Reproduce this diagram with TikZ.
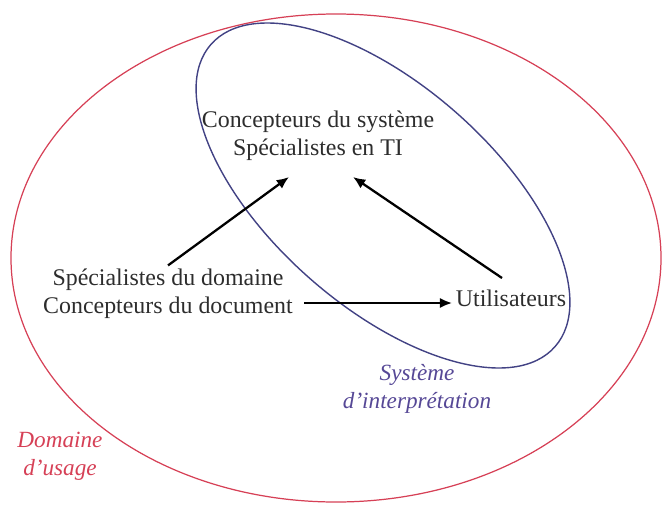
\documentclass[tikz,border=0pt]{standalone}
\usepackage{fontspec}
\setmainfont{Liberation Serif}
\usetikzlibrary{arrows.meta}
\definecolor{rouge}{RGB}{214,64,86}
\definecolor{bleu}{RGB}{66,66,132}
\definecolor{violet}{RGB}{86,72,150}
\definecolor{texte}{RGB}{45,45,45}
\tikzset{
	acteur/.style={text=texte,align=center,font=\fontsize{13.6}{15.8}\selectfont,inner sep=2pt},
	zone/.style={align=center,font=\fontsize{13.2}{15.8}\selectfont\itshape,inner sep=1pt},
	fleche/.style={line width=1.3pt,-{Latex[length=7pt,width=6pt]}}
}
\begin{document}
\begin{tikzpicture}[x=0.02cm,y=0.02cm]
	\useasboundingbox (0,0) rectangle (669,505);
	\draw[rouge,line width=0.7pt] (336,247) ellipse [x radius=325, y radius=244];
	\draw[bleu,line width=0.8pt,shift={(383,309.5)},rotate=-41.3] (0,0) ellipse [x radius=229, y radius=110.6];
	\node[acteur] (concepteurs) at (318,369) {Concepteurs du système\\Spécialistes en TI};
	\node[acteur] (specialistes) at (168,211) {Spécialistes du domaine\\Concepteurs du document};
	\node[acteur] (utilisateurs) at (511,207) {Utilisateurs};
	\node[zone,violet] (systeme) at (417,116) {Système\\d'interprétation};
	\node[zone,rouge] (domaine) at (60,49) {Domaine\\d'usage};
	\coordinate (c1) at (289,328);
	\coordinate (c2) at (353,328);
	\coordinate (u1) at (502,227);
	\coordinate (s1) at (304,202);
	\draw[fleche] (specialistes.north) -- (c1);
	\draw[fleche] (u1) -- (c2);
	\draw[fleche] (s1) -- (s1 -| utilisateurs.west);
\end{tikzpicture}
\end{document}
